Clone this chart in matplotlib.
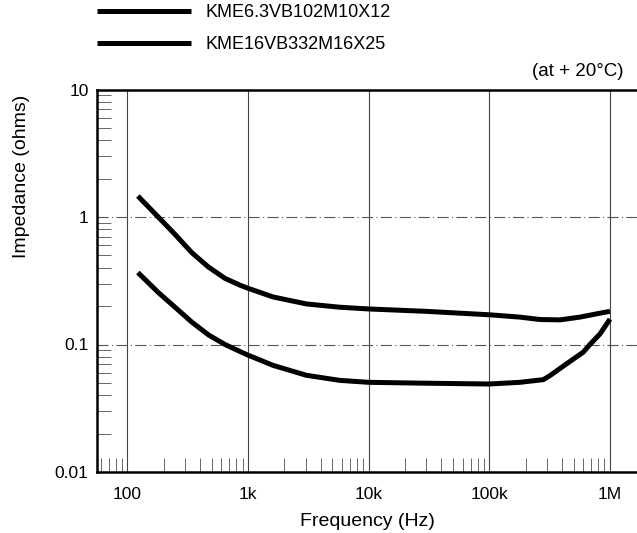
import matplotlib
matplotlib.use('Agg')
import matplotlib.pyplot as plt
from matplotlib.ticker import FixedLocator, LogLocator, NullFormatter

plt.rcParams['font.family'] = ['Liberation Sans', 'DejaVu Sans']

# 数据：频率 (Hz) 与阻抗 (ohms)
freq_a = [122, 180, 248, 341, 469, 644, 870, 1000, 1610, 3050, 5770, 10000,
          30000, 100000, 179000, 263000, 385000, 564000, 776000, 1000000]
imp_a = [1.46, 1.0, 0.73, 0.526, 0.405, 0.33, 0.29, 0.276, 0.236, 0.208, 0.196, 0.19,
         0.182, 0.171, 0.164, 0.157, 0.156, 0.164, 0.174, 0.182]

freq_b = [122, 180, 248, 341, 469, 644, 870, 1000, 1610, 3050, 5770, 10000,
          30000, 100000, 179000, 280000, 318000, 437000, 600000, 682000, 826000, 1000000]
imp_b = [0.367, 0.256, 0.196, 0.150, 0.119, 0.100, 0.0875, 0.0825, 0.0686, 0.0573, 0.0523, 0.0505,
         0.0497, 0.049, 0.0505, 0.053, 0.057, 0.0706, 0.087, 0.10, 0.121, 0.158]

labels = ['KME6.3VB102M10X12', 'KME16VB332M16X25']
x_ticks = [100, 1000, 10000, 100000, 1000000]
x_ticklabels = ['100', '1k', '10k', '100k', '1M']
y_ticks = [0.01, 0.1, 1, 10]
y_ticklabels = ['0.01', '0.1', '1', '10']

W, H = 637, 533
fig = plt.figure(figsize=(W / 100, H / 100), dpi=100)
ax = fig.add_axes([97 / W, (H - 472) / H, 540 / W, (472 - 89.5) / H])

for f, z, lab in [(freq_a, imp_a, labels[0]), (freq_b, imp_b, labels[1])]:
    ax.plot(f, z, color='black', lw=3.6, solid_capstyle='butt',
            solid_joinstyle='round', label=lab, zorder=3)

ax.set_xscale('log')
ax.set_yscale('log')
ax.set_xlim(55.9, 1.675e6)
ax.set_ylim(0.01, 10)

ax.xaxis.set_major_locator(FixedLocator(x_ticks))
ax.set_xticklabels(x_ticklabels)
ax.yaxis.set_major_locator(FixedLocator(y_ticks))
ax.set_yticklabels(y_ticklabels)
ax.xaxis.set_minor_locator(LogLocator(base=10, subs=range(2, 10), numticks=20))
ax.yaxis.set_minor_locator(LogLocator(base=10, subs=range(2, 10), numticks=20))
ax.xaxis.set_minor_formatter(NullFormatter())
ax.yaxis.set_minor_formatter(NullFormatter())

ax.tick_params(which='major', length=0, labelsize=12.5)
ax.tick_params(axis='y', which='major', pad=6)
ax.tick_params(axis='x', which='major', pad=11)
ax.tick_params(which='minor', direction='in', length=10, width=0.7, color='#666666')

# 网格
for xv in x_ticks:
    ax.axvline(xv, color='#444444', lw=0.8, zorder=1)
for yv in [0.1, 1]:
    ax.axhline(yv, color='#555555', lw=0.8, ls=(0, (10, 3, 1, 3)), zorder=1)

for side in ['left', 'top', 'bottom']:
    ax.spines[side].set_linewidth(1.8)
ax.spines['right'].set_visible(False)

ax.set_xlabel('Frequency (Hz)', fontsize=14, labelpad=8)
fig.text(22 / W, 1 - 176 / H, 'Impedance (ohms)', rotation=90, fontsize=14,
         ha='center', va='center')
fig.text(624 / W, 1 - 71 / H, '(at + 20°C)', fontsize=13.5, ha='right', va='center')

fig.legend(loc='upper left', bbox_to_anchor=(97 / W, 1 - 4 / H), frameon=False,
           fontsize=13, handlelength=5.2, handletextpad=0.8, labelspacing=0.85,
           borderaxespad=0, borderpad=0)

fig.savefig('out.png', dpi=100)
